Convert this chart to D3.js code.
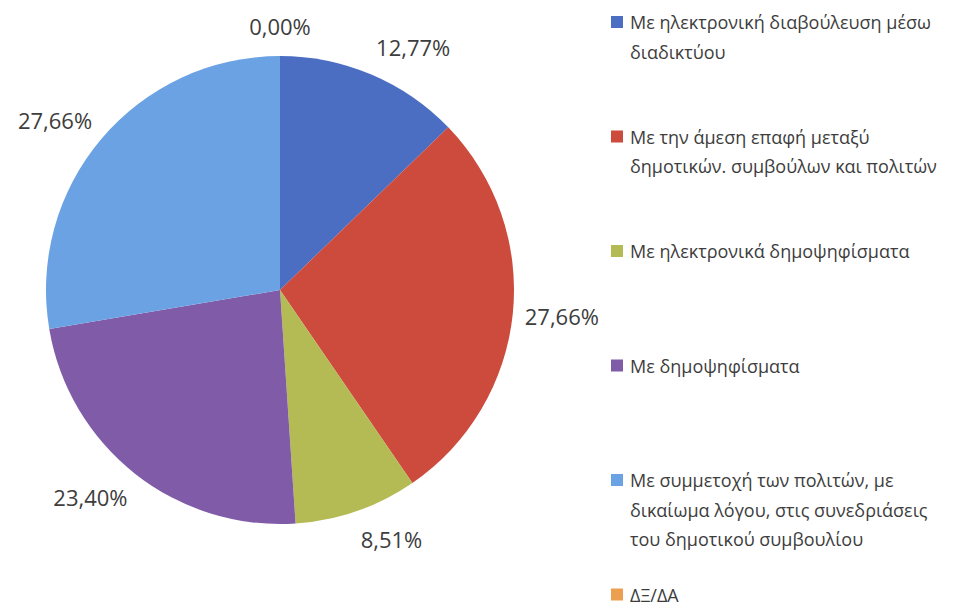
<!DOCTYPE html>
<html>
<head>
<meta charset="utf-8">
<script src="https://cdn.jsdelivr.net/npm/d3@7/dist/d3.min.js"></script>
<style>
  html, body { margin: 0; padding: 0; background: #ffffff; }
  svg { display: block; }
</style>
</head>
<body>
<svg id="chart" width="963" height="605"></svg>
<script>
// ---- data ----
const categories = [
  "Με ηλεκτρονική διαβούλευση μέσω διαδικτύου",
  "Με την άμεση επαφή μεταξύ δημοτικών. συμβούλων και πολιτών",
  "Με ηλεκτρονικά δημοψηφίσματα",
  "Με δημοψηφίσματα",
  "Με συμμετοχή των πολιτών, με δικαίωμα λόγου, στις συνεδριάσεις του δημοτικού συμβουλίου",
  "ΔΞ/ΔΑ"
];
const values = [12.77, 27.66, 8.51, 23.40, 27.66, 0.00];
const valueLabels = ["12,77%", "27,66%", "8,51%", "23,40%", "27,66%", "0,00%"];
const legendLines = [
  ["Με ηλεκτρονική διαβούλευση μέσω", "διαδικτύου"],
  ["Με την άμεση επαφή μεταξύ", "δημοτικών. συμβούλων και πολιτών"],
  ["Με ηλεκτρονικά δημοψηφίσματα"],
  ["Με δημοψηφίσματα"],
  ["Με συμμετοχή των πολιτών, με", "δικαίωμα λόγου, στις συνεδριάσεις", "του δημοτικού συμβουλίου"],
  ["ΔΞ/ΔΑ"]
];
const colors = ["#4b6ec3", "#cc4b3d", "#b4bb55", "#7f5ba8", "#6ba2e3", "#eb9f4f"];

// ---- layout ----
const svg = d3.select("#chart");
const cx = 280, cy = 290, radius = 234, gap = 12;
const font = "'Open Sans', 'Noto Sans', sans-serif";
const textColor = "#3d3d3d";

const pie = d3.pie().sort(null).value(d => d);
const arcs = pie(values);
const arc = d3.arc().innerRadius(0).outerRadius(radius);

const g = svg.append("g").attr("transform", `translate(${cx},${cy})`);
g.selectAll("path.slice")
  .data(arcs)
  .join("path")
  .attr("class", "slice")
  .attr("d", arc)
  .attr("fill", (d, i) => colors[i]);

// data labels placed just outside the pie edge
const labelArc = d3.arc().innerRadius(radius + gap).outerRadius(radius + gap);
g.selectAll("text.val")
  .data(arcs)
  .join("text")
  .attr("class", "val")
  .attr("font-family", font)
  .attr("font-size", 22)
  .attr("fill", textColor)
  .text((d, i) => valueLabels[i])
  .each(function(d) {
    const el = d3.select(this);
    const bb = this.getBBox();
    const [ax, ay] = labelArc.centroid(d);
    const a = (d.startAngle + d.endAngle) / 2;
    const s = Math.sin(a), c = Math.cos(a);
    const sx = Math.abs(s) < 1e-6 ? 0 : Math.sign(s);
    const h = 36;
    const x = ax + sx * bb.width / 2;
    const y = ay - c * h / 2;
    el.attr("x", x).attr("y", y)
      .attr("text-anchor", "middle")
      .attr("dominant-baseline", "central");
  });

// legend
const legendX = 611, textX = 630;
const yItem = d3.scaleLinear().domain([0, 1]).range([22, 136.5]);
const lineH = 29.5;
const leg = svg.append("g");
const items = leg.selectAll("g.item")
  .data(legendLines)
  .join("g")
  .attr("class", "item")
  .attr("transform", (d, i) => `translate(0,${yItem(i)})`);
items.append("rect")
  .attr("x", legendX).attr("y", -6)
  .attr("width", 12).attr("height", 12)
  .attr("fill", (d, i) => colors[i]);
items.each(function(lines) {
  const t = d3.select(this).append("text")
    .attr("font-family", font)
    .attr("font-size", 18)
    .attr("fill", textColor)
    .attr("dominant-baseline", "central");
  lines.forEach((ln, k) => {
    t.append("tspan").attr("x", textX).attr("y", k * lineH).text(ln);
  });
});
</script>
</body>
</html>
